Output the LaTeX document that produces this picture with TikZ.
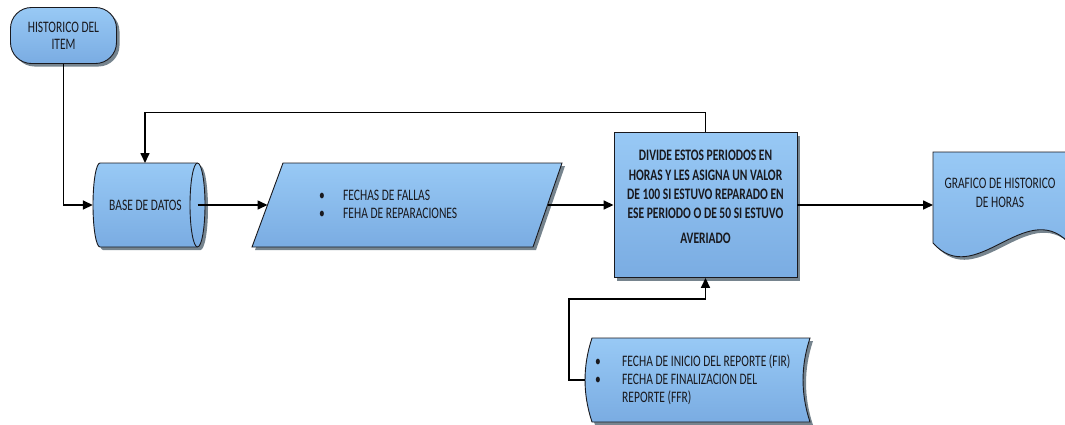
\documentclass[tikz,border=0pt]{standalone}
\usepackage{fontspec}
\setmainfont{Carlito}[FakeStretch=0.72]
\usetikzlibrary{arrows.meta,shadows}
\definecolor{fillTop}{RGB}{152,201,245}
\definecolor{fillBot}{RGB}{122,172,226}
\definecolor{shade}{RGB}{118,132,142}
\definecolor{ink}{RGB}{25,25,30}

\begin{document}
\begin{tikzpicture}[x=1pt,y=-1pt,
  flow/.style={draw=ink, line width=0.9pt, top color=fillTop, bottom color=fillBot,
    drop shadow={shadow xshift=3pt, shadow yshift=-3pt, opacity=1, fill=shade}},
  conn/.style={draw=black, line width=1.6pt, -{Triangle[length=10pt,width=9pt]}},
  lbl/.style={text=ink, inner sep=0pt, font=\fontsize{16}{18}\selectfont},
  hole/.style={inner sep=0pt, draw=none}
]
\useasboundingbox (0,0) rectangle (1065,424);
\clip (0,0) rectangle (1065,424);

% start terminator
\node[flow, rounded corners=21pt, minimum width=106pt, minimum height=56pt,
  inner sep=0pt, align=center, text=ink, font=\fontsize{16}{17}\selectfont]
  (term) at (63.5,35.5) {HISTORICO DEL\\ITEM};

% database cylinder
\path[flow] (100,163) -- (197.5,163)
  arc[start angle=-90, end angle=90, x radius=7.5, y radius=42]
  -- (100,247)
  arc[start angle=90, end angle=270, x radius=7, y radius=42] -- cycle;
\draw[ink, line width=0.9pt] (197.5,163)
  arc[start angle=270, end angle=90, x radius=7.5, y radius=42];
\node[hole, minimum width=112pt, minimum height=84pt] (db) at (149,205) {};
\coordinate (db-top) at (145,163);
\coordinate (db-out) at (197.5,205);
\node[lbl] (dbtxt) at (145.5,205) {BASE DE DATOS};

% input/output parallelogram
\path[flow] (283,163) -- (562,163) -- (533,247) -- (252,247) -- cycle;
\coordinate (par-in) at (267.5,205);
\coordinate (par-out) at (547.5,205);
\node[lbl, anchor=west, align=left] (partxt) at (319,204)
  {\makebox[24pt][l]{\textbullet}FECHAS DE FALLAS\\
   \makebox[24pt][l]{\textbullet}FEHA DE REPARACIONES};

% process box
\node[flow, minimum width=183pt, minimum height=145pt, inner sep=0pt]
  (proc) at (705.5,205) {};
\node[lbl, font=\bfseries\fontsize{16}{19.3}\selectfont, align=center]
  (proctxt) at (705.5,197)
  {DIVIDE ESTOS PERIODOS EN\\HORAS Y LES ASIGNA UN VALOR\\
   DE 100 SI ESTUVO REPARADO EN\\ESE PERIODO O DE 50 SI ESTUVO\\[5.7pt]AVERIADO};

% output document
\path[flow] (933,152) -- (1068,152) -- (1068,242)
  .. controls (1025,198) and (975,290) .. (933,243) -- cycle;
\coordinate (doc-in) at (933,205);
\node[lbl, align=center, font=\fontsize{16}{19}\selectfont] (doctxt) at (1000,192.5)
  {GRAFICO DE HISTORICO\\DE HORAS};

% stored data
\path[flow] (592,338) -- (810,338)
  .. controls (800.7,366) and (800.7,394) .. (810,422) -- (592,422)
  .. controls (582.7,394) and (582.7,366) .. (592,338) -- cycle;
\coordinate (st-out) at (585,380);
\node[lbl, anchor=west, align=left] (sttxt) at (595,379.5)
  {\makebox[27pt][l]{\textbullet}FECHA DE INICIO DEL REPORTE (FIR)\\
   \makebox[27pt][l]{\textbullet}FECHA DE FINALIZACION DEL\\
   \hspace*{27pt}REPORTE (FFR)};

% connectors
\draw[conn] (term.south) |- (db.west);
\draw[conn] (proc.north) -- ++(0,-19.5) -| (db-top);
\draw[conn] (db-out) -- (par-in);
\draw[conn] (par-out) -- (proc.west);
\draw[conn] (proc.east) -- (doc-in);
\draw[conn] (st-out) -| (569,299) -| (proc.south);
\end{tikzpicture}
\end{document}
